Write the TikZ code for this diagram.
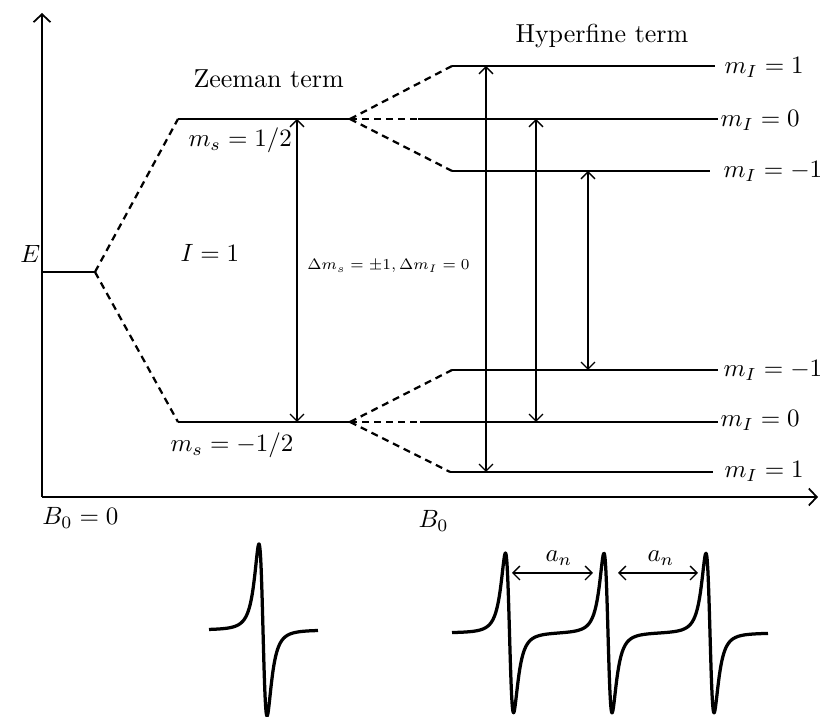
\documentclass[tikz,border=0pt]{standalone}
\usepackage{amsmath}
\usetikzlibrary{arrows.meta}

\begin{document}
\begin{tikzpicture}[
  x=0.4pt, y=-0.4pt,
  font=\fontsize{9.6}{11.5}\selectfont,
  declare function={dl(\x,\c)=((\x-\c)/7)/(1+((\x-\c)/7)^2)/(1+((\x-\c)/7)^2);},
  lvl/.style={line width=0.8pt},
  split/.style={line width=0.9pt, dash pattern=on 2.8pt off 2pt},
  trans/.style={{Straight Barb[length=2.8pt,width=5.6pt]}-{Straight Barb[length=2.8pt,width=5.6pt]}, line width=0.55pt},
  axis/.style={-{Straight Barb[length=3.2pt,width=6.8pt]}, line width=0.7pt},
  lbl/.style={anchor=base west, inner sep=0pt},
  term/.style={lbl, font=\fontsize{10.4}{12.5}\selectfont},
  spec/.style={line width=1.3pt, line join=round}
]
\useasboundingbox (0,0) rectangle (822,717);

\coordinate (O) at (42,497);
\coordinate (Etop) at (42,13);
\coordinate (Bend) at (818,497);
\coordinate (g0) at (42,272);
\coordinate (g1) at (95,272);
\coordinate (za) at (178,119);
\coordinate (zb) at (350,119);
\coordinate (zc) at (178,422);
\coordinate (zd) at (350,422);
\coordinate (h1a) at (452,66);
\coordinate (h1b) at (715,66);
\coordinate (h2a) at (418,119);
\coordinate (h2b) at (718,119);
\coordinate (h3a) at (452,171);
\coordinate (h3b) at (710,171);
\coordinate (l3a) at (452,370);
\coordinate (l3b) at (718,370);
\coordinate (l2a) at (420,422);
\coordinate (l2b) at (718,422);
\coordinate (l1a) at (450,472);
\coordinate (l1b) at (713,472);
\coordinate (dm) at (297,0);
\coordinate (t1) at (486,0);
\coordinate (t2) at (536,0);
\coordinate (t3) at (588,0);
\coordinate (a1) at (512,573);
\coordinate (a2) at (593,573);
\coordinate (a3) at (618,573);
\coordinate (a4) at (698,573);

\draw[axis] (O) -- (Etop);
\draw[axis] (O) -- (Bend);

\draw[lvl] (g0) -- (g1);
\draw[lvl] (za) -- (zb);
\draw[lvl] (zc) -- (zd);
\draw[split] (g1) -- (za);
\draw[split] (g1) -- (zc);

\draw[lvl] (h1a) -- (h1b);
\draw[lvl] (h2a) -- (h2b);
\draw[lvl] (h3a) -- (h3b);
\draw[lvl] (l3a) -- (l3b);
\draw[lvl] (l2a) -- (l2b);
\draw[lvl] (l1a) -- (l1b);
\draw[split] (zb) -- (h1a);
\draw[split] (zb) -- (h2a);
\draw[split] (zb) -- (h3a);
\draw[split] (zd) -- (l3a);
\draw[split] (zd) -- (l2a);
\draw[split] (zd) -- (l1a);

\draw[trans] (za -| dm) -- (zc -| dm);
\draw[trans] (h1a -| t1) -- (l1a -| t1);
\draw[trans] (h2a -| t2) -- (l2a -| t2);
\draw[trans] (h3a -| t3) -- (l3a -| t3);

\node[term] (E) at (20,263) {$E$};
\node[term] (zee) at (193,88) {Zeeman term};
\node[term] (hyp) at (515,43) {Hyperfine term};
\node[lbl] (msu) at (188,147) {$m_s = 1/2$};
\node[lbl] (msd) at (170,452) {$m_s = -1/2$};
\node[lbl] (spin) at (180,262) {$I = 1$};
\node[lbl, font=\fontsize{7.4}{9}\selectfont, scale=0.87] (sel) at (307,270) {$\Delta m_s = \pm 1, \Delta m_I = 0$};
\node[lbl] (mi1) at (724,74) {$m_I = 1$};
\node[lbl] (mi2) at (720,127) {$m_I = 0$};
\node[lbl] (mi3) at (723,178) {$m_I = -1$};
\node[lbl] (mi4) at (723,377) {$m_I = -1$};
\node[lbl] (mi5) at (720,427) {$m_I = 0$};
\node[lbl] (mi6) at (724,478) {$m_I = 1$};
\node[lbl] (bz) at (42,525) {$B_0 = 0$};
\node[lbl] (bf) at (418,528) {$B_0$};

\draw[spec] plot[domain=209:318, samples=400] (\x, {630+265*dl(\x,263)});
\draw[spec] plot[domain=452:768, samples=900] (\x, {633+246*(dl(\x,509.5)+dl(\x,608)+dl(\x,710))});

\draw[trans] (a1) -- (a2);
\draw[trans] (a3) -- (a4);
\node[lbl] (an1) at (545,562) {$a_n$};
\node[lbl] (an2) at (647,562) {$a_n$};
\end{tikzpicture}
\end{document}
